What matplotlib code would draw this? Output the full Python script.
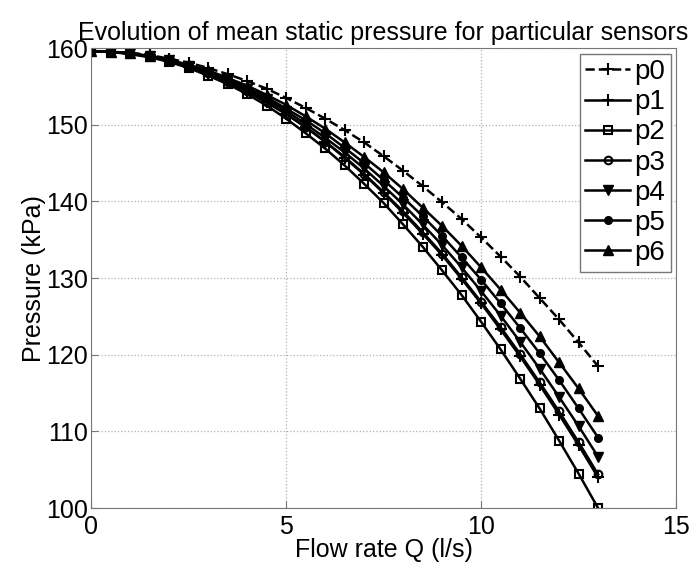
import numpy as np
import matplotlib
matplotlib.use('Agg')
from matplotlib import pyplot as plt

plt.rcParams['font.family'] = ['Liberation Sans', 'DejaVu Sans']

# flow rate points (l/s)
q = [0, 0.5, 1, 1.5, 2, 2.5, 3, 3.5, 4, 4.5, 5, 5.5, 6, 6.5, 7, 7.5, 8, 8.5,
     9, 9.5, 10, 10.5, 11, 11.5, 12, 12.5, 13]

# mean static pressure per sensor (kPa)
p0 = [159.6, 159.5, 159.4, 159.1, 158.6, 158.1, 157.4, 156.6, 155.7, 154.7, 153.5, 152.2, 150.8, 149.3,
      147.7, 145.9, 144.0, 142.0, 139.9, 137.7, 135.3, 132.8, 130.2, 127.4, 124.6, 121.6, 118.5]
p1 = [159.6, 159.5, 159.3, 158.9, 158.3, 157.5, 156.6, 155.6, 154.3, 152.9, 151.4, 149.7, 147.8, 145.7,
      143.5, 141.1, 138.5, 135.8, 133.0, 129.9, 126.7, 123.3, 119.8, 116.1, 112.2, 108.2, 104.0]
p2 = [159.6, 159.5, 159.2, 158.8, 158.2, 157.4, 156.4, 155.3, 154.0, 152.5, 150.8, 148.9, 146.9, 144.7,
      142.3, 139.8, 137.0, 134.1, 131.0, 127.8, 124.3, 120.7, 116.9, 113.0, 108.8, 104.5, 100.0]
p3 = [159.6, 159.5, 159.3, 158.9, 158.3, 157.6, 156.7, 155.6, 154.4, 153.0, 151.4, 149.7, 147.8, 145.8,
      143.6, 141.2, 138.7, 136.0, 133.2, 130.1, 126.9, 123.6, 120.1, 116.4, 112.6, 108.6, 104.4]
p4 = [159.6, 159.5, 159.3, 158.9, 158.4, 157.6, 156.8, 155.8, 154.6, 153.3, 151.8, 150.1, 148.3, 146.4,
      144.3, 142.0, 139.6, 137.0, 134.3, 131.4, 128.3, 125.1, 121.7, 118.2, 114.5, 110.7, 106.7]
p5 = [159.6, 159.5, 159.3, 158.9, 158.4, 157.7, 156.9, 156.0, 154.8, 153.6, 152.1, 150.6, 148.9, 147.0,
      145.0, 142.8, 140.5, 138.1, 135.5, 132.7, 129.8, 126.7, 123.5, 120.2, 116.7, 113.0, 109.2]
p6 = [159.6, 159.5, 159.3, 159.0, 158.5, 157.8, 157.1, 156.1, 155.1, 153.9, 152.6, 151.1, 149.5, 147.7,
      145.8, 143.8, 141.6, 139.2, 136.8, 134.2, 131.4, 128.5, 125.5, 122.4, 119.0, 115.6, 112.0]

fig = plt.figure(figsize=(6.97, 5.69), dpi=100)
ax = fig.add_axes([0.1306, 0.107, 0.8394, 0.8086])

lw = 1.8
ax.plot(q, p0, 'k--', marker='+', ms=8, mew=1.5, lw=lw, label='p0')
ax.plot(q, p1, 'k-', marker='+', ms=8, mew=1.5, lw=lw, label='p1')
ax.plot(q, p2, 'k-', marker='s', ms=5.5, mfc='none', mew=1.5, lw=lw, label='p2')
ax.plot(q, p3, 'k-', marker='o', ms=5.5, mfc='none', mew=1.5, lw=lw, label='p3')
ax.plot(q, p4, 'k-', marker='v', ms=6.5, lw=lw, label='p4')
ax.plot(q, p5, 'k-', marker='o', ms=5.5, lw=lw, label='p5')
ax.plot(q, p6, 'k-', marker='^', ms=6.5, lw=lw, label='p6')

ax.set_xlim(0, 15)
ax.set_ylim(100, 160)
ax.set_xticks([0, 5, 10, 15])
ax.set_yticks([100, 110, 120, 130, 140, 150, 160])
ax.grid(True, ls=':', color='#b0b0b0', lw=0.9)
ax.tick_params(direction='in', labelsize=18, color='#777777', length=5, pad=2)
ax.tick_params(axis='x', pad=5)
for s in ax.spines.values():
    s.set_color('#777777')

ax.set_xlabel('Flow rate Q (l/s)', fontsize=18, labelpad=-1)
ax.set_ylabel('Pressure (kPa)', fontsize=18, labelpad=0)
ax.set_title('Evolution of mean static pressure for particular sensors', fontsize=18, pad=6)

leg = ax.legend(loc='upper right', fontsize=20, handlelength=1.6, handletextpad=0.15,
                labelspacing=0.15, borderpad=0.2, fancybox=False, framealpha=1,
                borderaxespad=0.2)
leg.get_frame().set_edgecolor('#777777')

plt.savefig('out.png', dpi=100)
